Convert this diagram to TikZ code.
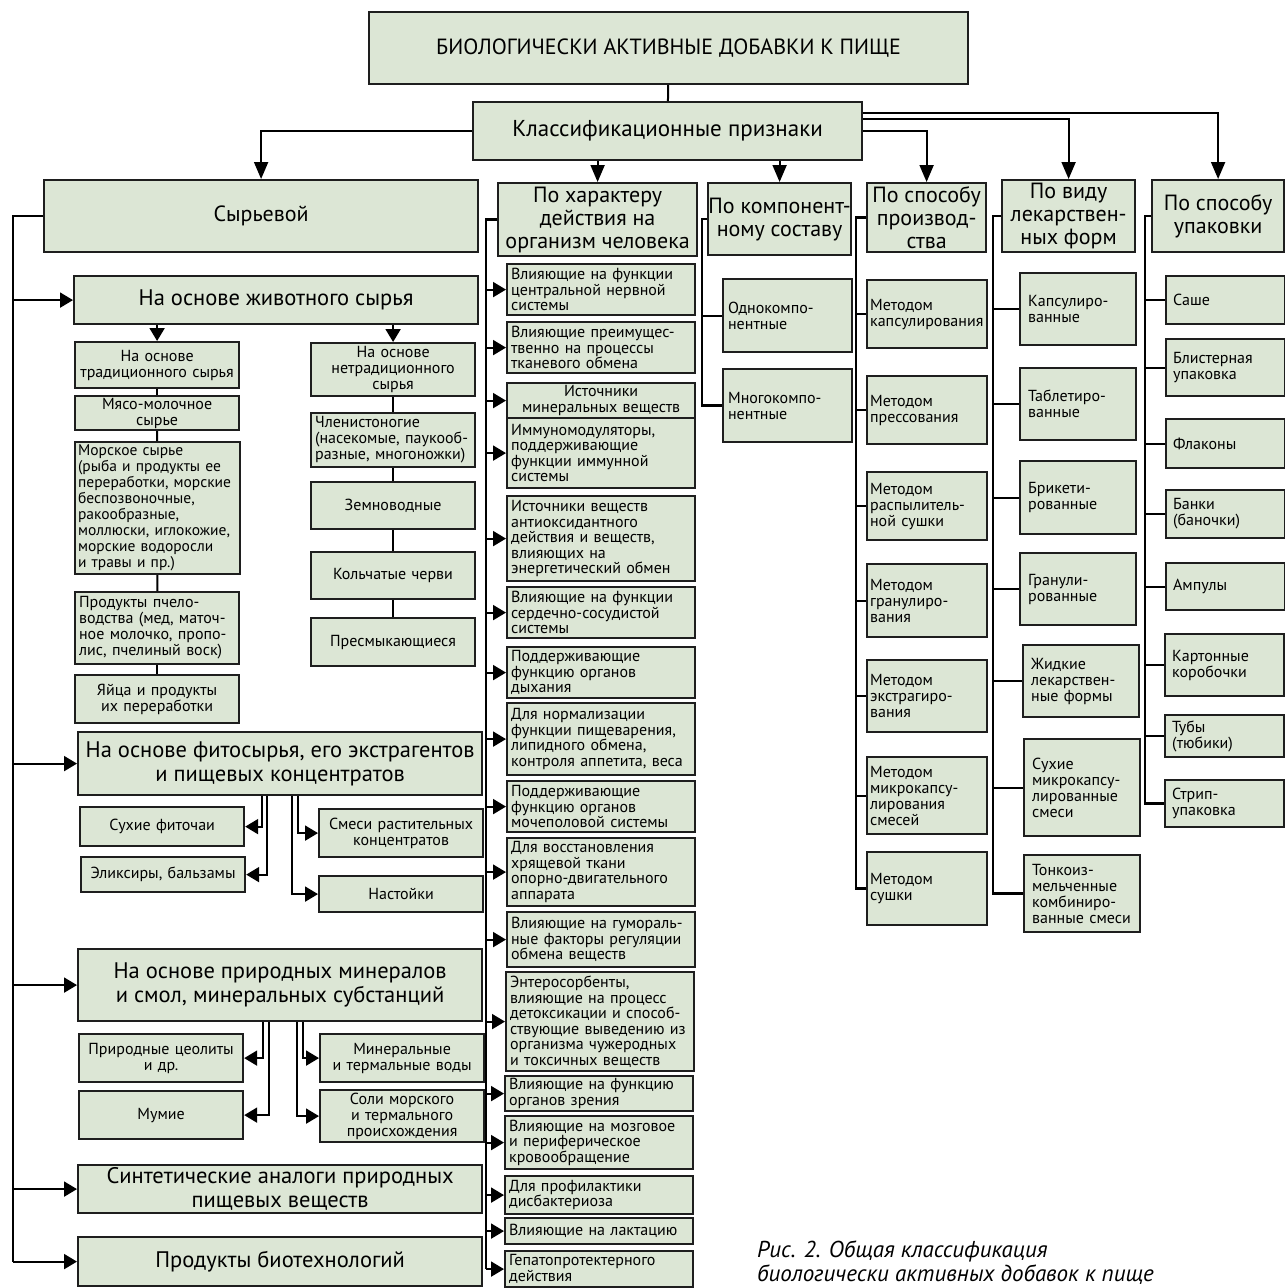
\documentclass[tikz,border=0pt]{standalone}
\usepackage{fontspec}
\setmainfont{PT Sans}
\usetikzlibrary{arrows.meta, positioning}
\definecolor{xfill}{HTML}{DCE6D5}
\definecolor{xline}{HTML}{1E1E1E}
\tikzset{
	arrow/.style={line width=2pt, -{Triangle[length=13pt, width=15pt]}},
	darrow/.style={line width=2pt, -{Triangle[length=17pt, width=14pt]}},
	link/.style={line width=2pt},
	trunk/.style={line width=2.6pt},
	box/.style={draw=xline, fill=xfill, line width=2.2pt, anchor=north west, inner xsep=4pt, inner ysep=0pt, align=center},
	big/.style={box, font=\fontsize{22.5}{24}\selectfont},
	head/.style={box, font=\fontsize{22}{23}\selectfont},
	small/.style={box, font=\fontsize{16}{16}\selectfont},
	actbox/.style={box, font=\fontsize{16}{15.5}\selectfont, text width=180pt, align=left},
	lbox/.style={small, text width=156pt},
	compbox/.style={small, text width=119pt, inner xsep=5pt, align=left},
	prodbox/.style={small, text width=114pt, inner xsep=3pt, align=left},
	formbox/.style={small, text width=100pt, inner xsep=8pt, align=left},
	packbox/.style={small, text width=105pt, inner xsep=7pt, align=left},
}

\begin{document}
\begin{tikzpicture}[x=1pt, y=-1pt]
	\useasboundingbox (0,0) rectangle (1285,1288);

	% Top
	\node[box, font=\fontsize{22}{24}\selectfont, minimum width=599pt, minimum height=72pt] (title) at (368,11) {БИОЛОГИЧЕСКИ АКТИВНЫЕ ДОБАВКИ К ПИЩЕ};
	\node[box, font=\fontsize{23}{25}\selectfont, minimum width=389pt, minimum height=58pt] (class) at (472,101) {Классификационные признаки};

	\node[head, minimum width=434pt, minimum height=72pt] (raw) at (43,179) {Сырьевой};
	\node[head, minimum width=199pt, minimum height=73pt] (act) at (497,182) {По характеру\\действия на\\организм человека};
	\node[head, minimum width=143pt, minimum height=72pt, inner xsep=0pt] (comp) at (707,182) {По компонент-\\ному составу};
	\node[head, minimum width=119pt, minimum height=69pt, inner xsep=1pt] (prod) at (866,182) {По способу\\производ-\\ства};
	\node[head, minimum width=133pt, minimum height=72pt, inner xsep=1pt] (form) at (1001,179) {По виду\\лекарствен-\\ных форм};
	\node[head, minimum width=132pt, minimum height=72pt] (pack) at (1151,179) {По способу\\упаковки};

	\draw[link] (title) -- (class);
	\draw[darrow] (class.west) -| (raw.north);
	\draw[darrow] (act.north |- class.south) -- (act.north);
	\draw[darrow] (comp.north |- class.south) -- (comp.north);
	\draw[darrow] (class.east) -| (prod.north);
	\draw[darrow] ([yshift=12pt]class.east) -| (form.north);
	\draw[darrow] ([yshift=18pt]class.east) -| (pack.north);

	% Raw materials
	\node[big, minimum width=404pt, minimum height=48pt] (anim) at (73,275) {На основе животного сырья};
	\node[big, minimum width=404pt, minimum height=63pt] (phyto) at (77,731) {На основе фитосырья, его экстрагентов\\и пищевых концентратов};
	\node[big, minimum width=404pt, minimum height=72pt] (miner) at (77,948) {На основе природных минералов\\и смол, минеральных субстанций};
	\node[big, minimum width=404pt, minimum height=48pt] (synth) at (77,1164) {Синтетические аналоги природных\\пищевых веществ};
	\node[big, minimum width=404pt, minimum height=49pt] (biot) at (77,1236) {Продукты биотехнологий};

	\coordinate (lt) at (13,0);
	\draw[trunk] (raw.west) -- (lt |- raw.west) -- (lt |- biot.west);
	\draw[arrow] (lt |- anim.west) -- (anim.west);
	\draw[arrow] (lt |- phyto.west) -- (phyto.west);
	\draw[arrow] (lt |- miner.west) -- (miner.west);
	\draw[arrow] (lt |- synth.west) -- (synth.west);
	\draw[arrow] (lt |- biot.west) -- (biot.west);

	% Animal raw materials
	\node[lbox, minimum height=46pt] (trad) at (74,341) {На основе\\традиционного сырья};
	\node[lbox, minimum height=34pt] (meat) at (74,395) {Мясо-молочное\\сырье};
	\node[lbox, minimum height=132pt, align=left, font=\fontsize{15.5}{16}\selectfont, inner xsep=3pt, text width=159pt] (sea) at (74,441) {Морское сырье\\(рыба и продукты ее\\переработки, морские\\беспозвоночные,\\ракообразные,\\моллюски, иглокожие,\\морские водоросли\\и травы и пр.)};
	\node[lbox, minimum height=72pt, align=left] (bee) at (74,591) {Продукты пчело-\\водства (мед, маточ-\\ное молочко, пропо-\\лис, пчелиный воск)};
	\node[lbox, minimum height=48pt] (egg) at (74,674) {Яйца и продукты\\их переработки};

	\node[lbox, minimum height=53pt] (ntrad) at (310,342) {На основе\\нетрадиционного\\сырья};
	\node[lbox, minimum height=54pt, align=left] (arthro) at (310,412) {Членистоногие\\(насекомые, паукооб-\\разные, многоножки)};
	\node[lbox, minimum height=47pt] (amph) at (310,481) {Земноводные};
	\node[lbox, minimum height=47pt] (worm) at (310,551) {Кольчатые черви};
	\node[lbox, minimum height=48pt] (rept) at (310,617) {Пресмыкающиеся};

	\draw[arrow] (trad.north |- anim.south) -- (trad.north);
	\draw[arrow] (ntrad.north |- anim.south) -- (ntrad.north);
	\draw[link] (trad) -- (meat);
	\draw[link] (meat) -- (sea);
	\draw[link] (sea) -- (bee);
	\draw[link] (bee) -- (egg);
	\draw[link] (ntrad) -- (arthro);
	\draw[link] (arthro) -- (amph);
	\draw[link] (amph) -- (worm);
	\draw[link] (worm) -- (rept);

	% Phyto raw materials
	\node[lbox, minimum height=39pt] (dry) at (79,806) {Сухие фиточаи};
	\node[lbox, minimum height=35pt] (elix) at (80,856) {Эликсиры, бальзамы};
	\node[lbox, minimum height=48pt] (mix) at (318,808) {Смеси растительных\\концентратов};
	\node[lbox, minimum height=36pt] (tinct) at (318,875) {Настойки};

	\draw[arrow] ([xshift=-18pt]phyto.south) |- (dry.east);
	\draw[arrow] ([xshift=-13pt]phyto.south) |- (elix.east);
	\draw[arrow] ([xshift=18pt]phyto.south) |- (mix.west);
	\draw[arrow] ([xshift=12pt]phyto.south) |- (tinct.west);

	% Minerals
	\node[lbox, minimum height=48pt] (zeol) at (78,1033) {Природные цеолиты\\и др.};
	\node[lbox, minimum height=48pt] (mumie) at (78,1090) {Мумие};
	\node[lbox, minimum height=48pt] (water) at (319,1033) {Минеральные\\и термальные воды};
	\node[lbox, minimum height=52pt] (salt) at (319,1089) {Соли морского\\и термального\\происхождения};

	\draw[arrow] ([xshift=-17pt]miner.south) |- (zeol.east);
	\draw[arrow] ([xshift=-11pt]miner.south) |- (mumie.east);
	\draw[arrow] ([xshift=23pt]miner.south) |- (water.west);
	\draw[arrow] ([xshift=17pt]miner.south) |- (salt.west);

	% Action on the organism
	\node[actbox, minimum height=51pt] (a1) at (506,263) {Влияющие на функции\\центральной нервной\\системы};
	\node[actbox, minimum height=51pt] (a2) at (506,321) {Влияющие преимущес-\\твенно на процессы\\тканевого обмена};
	\node[actbox, minimum height=35pt, align=center] (a3) at (506,382) {Источники\\минеральных веществ};
	\node[actbox, minimum height=70pt] (a4) at (506,417) {Иммуномодуляторы,\\поддерживающие\\функции иммунной\\системы};
	\node[actbox, minimum height=85pt] (a5) at (506,495) {Источники веществ\\антиоксидантного\\действия и веществ,\\влияющих на\\энергетический обмен};
	\node[actbox, minimum height=51pt] (a6) at (506,586) {Влияющие на функции\\сердечно-сосудистой\\системы};
	\node[actbox, minimum height=51pt] (a7) at (506,646) {Поддерживающие\\функцию органов\\дыхания};
	\node[actbox, minimum height=72pt] (a8) at (506,702) {Для нормализации\\функции пищеварения,\\липидного обмена,\\контроля аппетита, веса};
	\node[actbox, minimum height=51pt] (a9) at (506,780) {Поддерживающие\\функцию органов\\мочеполовой системы};
	\node[actbox, minimum height=68pt] (a10) at (506,837) {Для восстановления\\хрящевой ткани\\опорно-двигательного\\аппарата};
	\node[actbox, minimum height=55pt] (a11) at (506,911) {Влияющие на гумораль-\\ные факторы регуляции\\обмена веществ};
	\node[actbox, minimum height=99pt] (a12) at (505,971) {Энтеросорбенты,\\влияющие на процесс\\детоксикации и способ-\\ствующие выведению из\\организма чужеродных\\и токсичных веществ};
	\node[actbox, minimum height=35pt] (a13) at (504,1075) {Влияющие на функцию\\органов зрения};
	\node[actbox, minimum height=53pt] (a14) at (504,1115) {Влияющие на мозговое\\и периферическое\\кровообращение};
	\node[actbox, minimum height=38pt] (a15) at (504,1175) {Для профилактики\\дисбактериоза};
	\node[actbox, minimum height=26pt] (a16) at (504,1217) {Влияющие на лактацию};
	\node[actbox, minimum height=36pt] (a17) at (504,1250) {Гепатопротектерного\\действия};

	\coordinate (at) at (486,0);
	\draw[trunk] (act.west) -- (at |- act.west) -- (at |- a17.west);
	\draw[arrow] (at |- a1.west) -- (a1.west);
	\draw[arrow] (at |- a2.west) -- (a2.west);
	\draw[arrow] (at |- a3.west) -- (a3.west);
	\draw[arrow] (at |- a4.west) -- (a4.west);
	\draw[arrow] (at |- a5.west) -- (a5.west);
	\draw[arrow] (at |- a6.west) -- (a6.west);
	\draw[arrow] (at |- a7.west) -- (a7.west);
	\draw[arrow] (at |- a8.west) -- (a8.west);
	\draw[arrow] (at |- a9.west) -- (a9.west);
	\draw[arrow] (at |- a10.west) -- (a10.west);
	\draw[arrow] (at |- a11.west) -- (a11.west);
	\draw[arrow] (at |- a12.west) -- (a12.west);
	\draw[arrow] (at |- a13.west) -- (a13.west);
	\draw[arrow] (at |- a14.west) -- (a14.west);
	\draw[arrow] (at |- a15.west) -- (a15.west);
	\draw[arrow] (at |- a16.west) -- (a16.west);
	\draw[arrow] (at |- a17.west) -- (a17.west);

	% Components
	\node[compbox, minimum height=73pt] (single) at (722,278) {Однокомпо-\\нентные};
	\node[compbox, minimum height=73pt] (multi) at (722,368) {Многокомпо-\\нентные};

	\coordinate (ct) at (702,0);
	\draw[trunk] (comp.west) -- (ct |- comp.west) -- (ct |- multi.west) -- (multi.west);
	\draw[link] (ct |- single.west) -- (single.west);

	% Production
	\node[prodbox, minimum height=68pt] (m1) at (866,279) {Методом\\капсулирования};
	\node[prodbox, minimum height=68pt] (m2) at (866,375) {Методом\\прессования};
	\node[prodbox, minimum height=68pt] (m3) at (866,471) {Методом\\распылитель-\\ной сушки};
	\node[prodbox, minimum height=73pt] (m4) at (866,563) {Методом\\гранулиро-\\вания};
	\node[prodbox, minimum height=72pt] (m5) at (866,659) {Методом\\экстрагиро-\\вания};
	\node[prodbox, minimum height=77pt] (m6) at (866,756) {Методом\\микрокапсу-\\лирования\\смесей};
	\node[prodbox, minimum height=73pt] (m7) at (866,851) {Методом\\сушки};

	\coordinate (pt) at (856,0);
	\draw[trunk] (prod.west) -- (pt |- prod.west) -- (pt |- m7.west) -- (m7.west);
	\draw[link] (pt |- m1.west) -- (m1.west);
	\draw[link] (pt |- m2.west) -- (m2.west);
	\draw[link] (pt |- m3.west) -- (m3.west);
	\draw[link] (pt |- m4.west) -- (m4.west);
	\draw[link] (pt |- m5.west) -- (m5.west);
	\draw[link] (pt |- m6.west) -- (m6.west);

	% Dosage forms
	\node[formbox, minimum height=72pt] (f1) at (1019,272) {Капсулиро-\\ванные};
	\node[formbox, minimum height=72pt] (f2) at (1019,367) {Таблетиро-\\ванные};
	\node[formbox, minimum height=73pt] (f3) at (1019,460) {Брикети-\\рованные};
	\node[formbox, minimum height=72pt] (f4) at (1019,552) {Гранули-\\рованные};
	\node[formbox, minimum height=72pt] (f5) at (1022,644) {Жидкие\\лекарствен-\\ные формы};
	\node[formbox, minimum height=97pt] (f6) at (1023,738) {Сухие\\микрокапсу-\\лированные\\смеси};
	\node[formbox, minimum height=77pt] (f7) at (1023,854) {Тонкоиз-\\мельченные\\комбиниро-\\ванные смеси};

	\coordinate (ft) at (993,0);
	\draw[trunk] (form.west) -- (ft |- form.west) -- (ft |- f7.west) -- (f7.west);
	\draw[link] (ft |- f1.west) -- (f1.west);
	\draw[link] (ft |- f2.west) -- (f2.west);
	\draw[link] (ft |- f3.west) -- (f3.west);
	\draw[link] (ft |- f4.west) -- (f4.west);
	\draw[link] (ft |- f5.west) -- (f5.west);
	\draw[link] (ft |- f6.west) -- (f6.west);

	% Packaging
	\node[packbox, minimum height=48pt] (p1) at (1165,275) {Саше};
	\node[packbox, minimum height=57pt] (p2) at (1165,338) {Блистерная\\упаковка};
	\node[packbox, minimum height=49pt] (p3) at (1165,418) {Флаконы};
	\node[packbox, minimum height=48pt] (p4) at (1165,489) {Банки\\(баночки)};
	\node[packbox, minimum height=47pt] (p5) at (1165,562) {Ампулы};
	\node[packbox, minimum height=62pt] (p6) at (1164,633) {Картонные\\коробочки};
	\node[packbox, minimum height=42pt] (p7) at (1164,714) {Тубы\\(тюбики)};
	\node[packbox, minimum height=47pt] (p8) at (1164,779) {Стрип-\\упаковка};

	\coordinate (kt) at (1145,0);
	\draw[trunk] (pack.west) -- (kt |- pack.west) -- (kt |- p8.west) -- (p8.west);
	\draw[link] (kt |- p1.west) -- (p1.west);
	\draw[link] (kt |- p2.west) -- (p2.west);
	\draw[link] (kt |- p3.west) -- (p3.west);
	\draw[link] (kt |- p4.west) -- (p4.west);
	\draw[link] (kt |- p5.west) -- (p5.west);
	\draw[link] (kt |- p6.west) -- (p6.west);
	\draw[link] (kt |- p7.west) -- (p7.west);

	% Caption
	\node[anchor=base west, align=left, inner sep=0pt, font=\fontsize{23}{24}\selectfont\itshape] (cap) at (757,1281) {Рис. 2. Общая классификация\\биологически активных добавок к пище};
\end{tikzpicture}
\end{document}
